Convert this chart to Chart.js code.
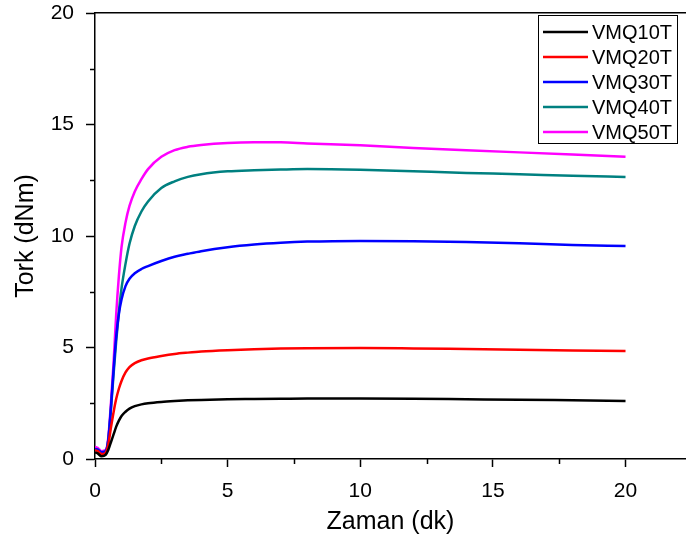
<!DOCTYPE html>
<html>
<head>
<meta charset="utf-8">
<script src="https://cdn.jsdelivr.net/npm/chart.js@4.4.1/dist/chart.umd.min.js"></script>
<style>
  html, body { margin: 0; padding: 0; background: #fff; }
  #wrap { width: 686px; height: 546px; position: relative; }
</style>
</head>
<body>
<div id="wrap"><canvas id="torkChart" width="686" height="546"></canvas></div>
<script>
// time axis (dk) shared by all curves
const times = [0, 0.1, 0.25, 0.4, 0.5, 0.6, 0.7, 0.8, 0.9, 1.0, 1.15, 1.3, 1.5, 1.75, 2, 2.5, 3, 3.5, 4, 5, 6, 7, 8, 10, 12, 14, 16, 18, 20];

// torque values (dNm)
const vmq10 = [0.3, 0.25, 0.12, 0.18, 0.4, 0.75, 1.1, 1.45, 1.72, 1.93, 2.12, 2.26, 2.37, 2.45, 2.5, 2.56, 2.6, 2.63, 2.65, 2.68, 2.69, 2.7, 2.71, 2.71, 2.7, 2.68, 2.66, 2.63, 2.6];
const vmq20 = [0.4, 0.35, 0.22, 0.28, 0.65, 1.4, 2.1, 2.7, 3.15, 3.5, 3.88, 4.12, 4.3, 4.43, 4.51, 4.62, 4.71, 4.77, 4.82, 4.88, 4.92, 4.95, 4.97, 4.98, 4.96, 4.93, 4.9, 4.87, 4.84];
const vmq30 = [0.45, 0.42, 0.3, 0.35, 0.85, 2.3, 4.0, 5.5, 6.5, 7.15, 7.75, 8.08, 8.33, 8.52, 8.65, 8.88, 9.07, 9.2, 9.32, 9.5, 9.62, 9.7, 9.75, 9.78, 9.77, 9.73, 9.67, 9.6, 9.55];
const vmq40 = [0.45, 0.42, 0.3, 0.35, 0.85, 2.2, 3.8, 5.3, 6.6, 7.65, 8.75, 9.65, 10.45, 11.1, 11.55, 12.15, 12.45, 12.65, 12.77, 12.9, 12.95, 12.98, 13.0, 12.97, 12.9, 12.83, 12.77, 12.7, 12.65];
const vmq50 = [0.55, 0.5, 0.35, 0.4, 0.95, 2.5, 4.3, 6.5, 8.2, 9.5, 10.6, 11.35, 12.0, 12.55, 13.0, 13.55, 13.85, 14.0, 14.08, 14.17, 14.2, 14.2, 14.15, 14.07, 13.95, 13.85, 13.75, 13.65, 13.55];

const seriesLabels = ['VMQ10T', 'VMQ20T', 'VMQ30T', 'VMQ40T', 'VMQ50T'];
const seriesValues = [vmq10, vmq20, vmq30, vmq40, vmq50];
const seriesColors = ['#000000', '#ff0000', '#0000ff', '#008080', '#ff00ff'];

const xTicks = [0, 5, 10, 15, 20];
const xMinorTicks = [2.5, 7.5, 12.5, 17.5];
const yTicks = [0, 5, 10, 15, 20];
const yMinorTicks = [2.5, 7.5, 12.5, 17.5];

const FONT = '"Liberation Sans", Arial, sans-serif';

// short minor tick marks drawn through the scales
const minorTicksPlugin = {
  id: 'minorTicks',
  afterDraw(chart) {
    const { ctx, chartArea, scales } = chart;
    ctx.save();
    ctx.strokeStyle = '#000';
    ctx.lineWidth = 1.5;
    ctx.beginPath();
    xMinorTicks.forEach(v => {
      const px = Math.round(scales.x.getPixelForValue(v)) + 0.5;
      ctx.moveTo(px, chartArea.bottom);
      ctx.lineTo(px, chartArea.bottom + 5);
    });
    yMinorTicks.forEach(v => {
      const py = Math.round(scales.y.getPixelForValue(v)) + 0.5;
      ctx.moveTo(chartArea.left, py);
      ctx.lineTo(chartArea.left - 5, py);
    });
    ctx.stroke();
    ctx.restore();
  }
};

// boxed legend in the upper right corner
const boxLegendPlugin = {
  id: 'boxLegend',
  afterDraw(chart) {
    const { ctx, chartArea } = chart;
    const sets = chart.data.datasets;
    const rowH = 25;
    const boxW = 139;
    const boxX = chartArea.right - 9 - boxW;
    const boxY = chartArea.top + 2;
    const boxH = rowH * sets.length + 3;
    ctx.save();
    ctx.fillStyle = '#fff';
    ctx.fillRect(boxX, boxY, boxW, boxH);
    ctx.strokeStyle = '#000';
    ctx.lineWidth = 1;
    ctx.strokeRect(boxX + 0.5, boxY + 0.5, boxW, boxH);
    ctx.font = '20px ' + FONT;
    ctx.textBaseline = 'middle';
    sets.forEach((ds, i) => {
      const cy = boxY + 17 + i * rowH;
      ctx.strokeStyle = ds.borderColor;
      ctx.lineWidth = 2.5;
      ctx.beginPath();
      ctx.moveTo(boxX + 5, cy);
      ctx.lineTo(boxX + 50, cy);
      ctx.stroke();
      ctx.fillStyle = '#000';
      ctx.fillText(ds.label, boxX + 54, cy + 1);
    });
    ctx.restore();
  }
};

const datasets = seriesLabels.map((label, i) => ({
  label,
  data: times.map((t, j) => ({ x: t, y: seriesValues[i][j] })),
  borderColor: seriesColors[i],
  backgroundColor: seriesColors[i],
  borderWidth: 2.5,
  pointRadius: 0,
  cubicInterpolationMode: 'monotone',
  fill: false
}));

const ctx = document.getElementById('torkChart').getContext('2d');
const chart = new Chart(ctx, {
  type: 'line',
  data: { datasets },
  plugins: [minorTicksPlugin, boxLegendPlugin],
  options: {
    responsive: false,
    animation: false,
    layout: { padding: 0 },
    plugins: {
      legend: { display: false },
      tooltip: { enabled: false }
    },
    scales: {
      x: {
        type: 'linear',
        position: 'bottom',
        min: 0,
        max: 22.28,
        afterBuildTicks: s => { s.ticks = xTicks.map(v => ({ value: v })); },
        afterFit: s => { s.height = 87; s.paddingLeft = 0; s.paddingRight = 0; },
        grid: { drawOnChartArea: false, tickLength: 8, tickWidth: 1.5, tickColor: '#000' },
        border: { color: '#000', width: 1.5 },
        ticks: { color: '#000', padding: 12, maxRotation: 0, font: { size: 21, family: FONT } },
        title: { display: true, text: 'Zaman (dk)', color: '#000', padding: { bottom: 9 }, font: { size: 25, family: FONT } }
      },
      xTop: {
        type: 'linear',
        position: 'top',
        min: 0,
        max: 22.28,
        afterFit: s => { s.height = 13; s.paddingLeft = 0; s.paddingRight = 0; },
        grid: { display: false },
        border: { color: '#000', width: 1.5 },
        ticks: { display: false }
      },
      y: {
        type: 'linear',
        position: 'left',
        min: 0,
        max: 20,
        afterBuildTicks: s => { s.ticks = yTicks.map(v => ({ value: v })); },
        afterFit: s => { s.width = 95; s.paddingTop = 0; s.paddingBottom = 0; },
        grid: { drawOnChartArea: false, tickLength: 9, tickWidth: 1.5, tickColor: '#000' },
        border: { color: '#000', width: 1.5 },
        ticks: { color: '#000', padding: 12, font: { size: 21, family: FONT } },
        title: { display: true, text: 'Tork (dNm)', color: '#000', padding: { top: 11 }, font: { size: 25, family: FONT } }
      }
    }
  }
});
</script>
</body>
</html>
